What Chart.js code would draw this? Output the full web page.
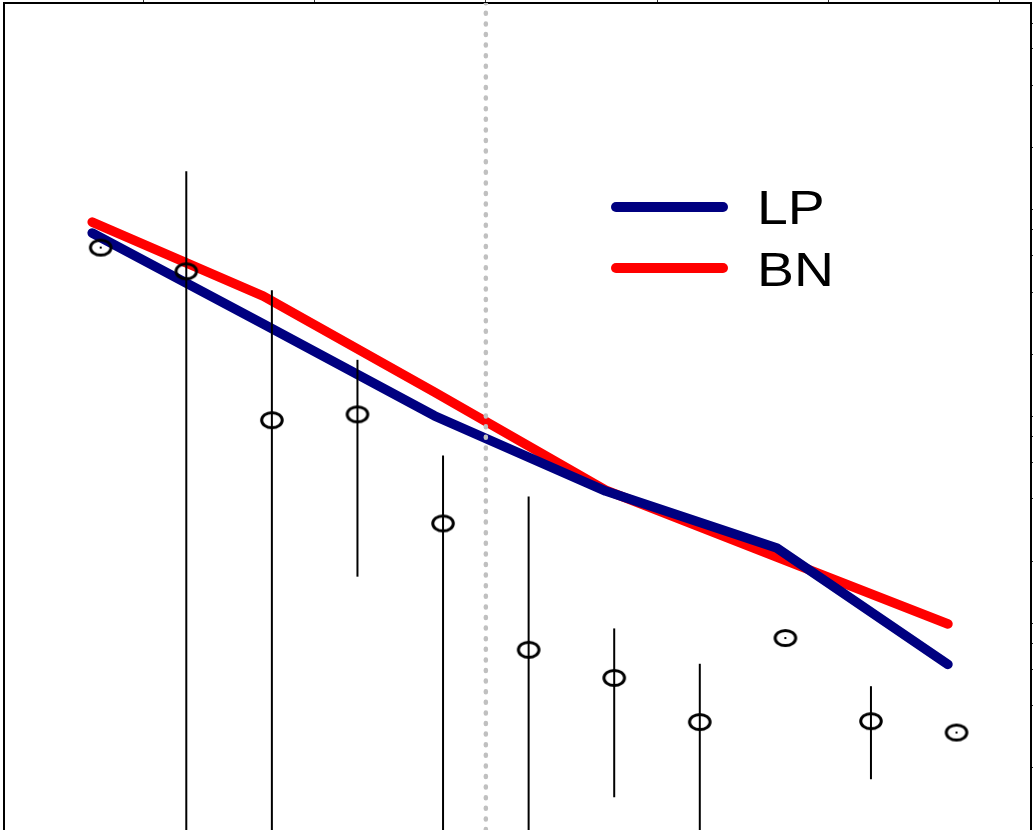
<!DOCTYPE html>
<html>
<head>
<meta charset="utf-8">
<script src="https://cdn.jsdelivr.net/npm/chart.js@4.4.1/dist/chart.umd.min.js"></script>
<style>
  html, body { margin: 0; padding: 0; background: #fff; overflow: hidden; }
  #wrap { position: relative; width: 1033px; height: 830px; }
  #c { display: block; }
  .key { position: absolute; left: 611px; width: 117px; height: 10px; border-radius: 5px; }
  .lbl { position: absolute; left: 757px; font-family: "Liberation Sans", Arial, sans-serif;
         font-size: 49px; line-height: 49px; color: #000; white-space: nowrap;
         transform: scaleX(1.13); transform-origin: 0 50%; }
</style>
</head>
<body>
<div id="wrap">
  <canvas id="c" width="1033" height="830"></canvas>
</div>
<script>
// Observed values per half-bin, with symmetric uncertainties (0 = no bar)
const binCentres  = [-0.25, 0.25, 0.75, 1.25, 1.75, 2.25, 2.75, 3.25, 3.75, 4.25, 4.75];
const observed    = [8.2, 6.3, 1.20, 1.28, 0.38, 0.093, 0.068, 0.0416, 0.106, 0.042, 0.037];
const observedErr = [0, 12.9, 3.9, 1.07, 0.43, 0.42, 0.05, 0.038, 0, 0.02, 0];

// Model curves
const modelX  = [-0.3, 0.7, 1.7, 2.7, 3.7, 4.7];
const modelLP = [9.65, 3.50, 1.26, 0.545, 0.289, 0.079];
const modelBN = [10.9, 4.78, 1.64, 0.551, 0.261, 0.124];

const seriesNames  = ['LP', 'BN'];
const seriesColors = ['#000080', '#ff0000'];

// Boundary marker and axis ranges / tick positions
const boundaryX = 2;
const xRange = [-0.815, 5.185];
const yRange = [0.0125, 125];
const topTicks = [0, 1, 2, 3, 4, 5];
const rightTicks = [0.025, 0.05, 0.075, 0.1, 0.125, 0.25, 0.5, 0.75, 1, 1.25, 2.5, 5, 7.5,
                    10, 12.5, 25, 50, 75, 100];

// open elliptical marker
function ringMarker() {
  const cv = document.createElement('canvas');
  cv.width = 28; cv.height = 22;
  const g = cv.getContext('2d');
  g.strokeStyle = '#000';
  g.lineWidth = 3;
  g.beginPath();
  g.ellipse(14, 11, 10.3, 7.6, 0, 0, Math.PI * 2);
  g.stroke();
  return cv;
}

const xy = (xs, ys) => xs.map((x, i) => ({ x, y: ys[i] }));

const errorBars = {
  id: 'errorBars',
  afterDatasetsDraw(chart) {
    const { ctx, chartArea, scales: { x, y } } = chart;
    ctx.save();
    ctx.beginPath();
    ctx.rect(chartArea.left, chartArea.top, chartArea.right - chartArea.left, chartArea.bottom - chartArea.top);
    ctx.clip();
    ctx.strokeStyle = '#000';
    ctx.fillStyle = '#000';
    ctx.lineWidth = 2;
    binCentres.forEach((bx, i) => {
      const px = x.getPixelForValue(bx);
      const v = observed[i], e = observedErr[i];
      if (e === 0) {
        const py = y.getPixelForValue(v);
        ctx.fillRect(px - 1, py - 1, 2, 2);
        return;
      }
      const hi = v + e, lo = v - e;
      const top = Math.max(chartArea.top, y.getPixelForValue(hi));
      const bot = lo > 0 ? Math.min(chartArea.bottom, y.getPixelForValue(lo)) : chartArea.bottom;
      ctx.beginPath();
      ctx.moveTo(px, top);
      ctx.lineTo(px, bot);
      ctx.stroke();
    });
    ctx.restore();
  }
};

const lineStyle = (color, order) => ({
  borderColor: color, backgroundColor: color, borderWidth: 9.5,
  borderCapStyle: 'round', borderJoinStyle: 'round',
  pointRadius: 0, tension: 0, fill: false, order
});

new Chart(document.getElementById('c'), {
  type: 'line',
  data: {
    datasets: [
      { label: 'obs', data: xy(binCentres, observed), showLine: false,
        pointStyle: ringMarker(), pointRadius: 10, order: 0 },
      { label: 'boundary', data: [{ x: boundaryX, y: yRange[0] }, { x: boundaryX, y: yRange[1] }],
        borderColor: '#c0c0c0', borderWidth: 4.5, borderDash: [1, 9.6], borderCapStyle: 'round',
        pointRadius: 0, order: 1 },
      Object.assign({ label: seriesNames[0], data: xy(modelX, modelLP) }, lineStyle(seriesColors[0], 2)),
      Object.assign({ label: seriesNames[1], data: xy(modelX, modelBN) }, lineStyle(seriesColors[1], 3))
    ]
  },
  options: {
    responsive: false,
    animation: false,
    events: [],
    layout: { autoPadding: false, padding: { left: 4, top: 0, right: 0, bottom: 0 } },
    plugins: { legend: { display: false }, tooltip: { enabled: false } },
    scales: {
      x: { type: 'linear', min: xRange[0], max: xRange[1], display: false },
      xTop: {
        type: 'linear', position: 'top', min: xRange[0], max: xRange[1],
        afterBuildTicks: s => { s.ticks = topTicks.map(v => ({ value: v })); },
        ticks: { display: false },
        grid: { drawOnChartArea: false, drawTicks: true, tickLength: 3, color: '#333', lineWidth: 1 },
        border: { display: true, color: '#000', width: 2 }
      },
      y: {
        type: 'logarithmic', position: 'left', min: yRange[0], max: yRange[1],
        ticks: { display: false },
        grid: { drawOnChartArea: false, drawTicks: false, tickLength: 0 },
        border: { display: true, color: '#000', width: 2 }
      },
      yRight: {
        type: 'logarithmic', position: 'right', min: yRange[0], max: yRange[1],
        afterBuildTicks: s => { s.ticks = rightTicks.map(v => ({ value: v })); },
        ticks: { display: false },
        grid: { drawOnChartArea: false, drawTicks: true, tickLength: 2, color: '#333', lineWidth: 1 },
        border: { display: true, color: '#000', width: 2 }
      }
    }
  },
  plugins: [errorBars]
});

// legend inside the plot
const wrap = document.getElementById('wrap');
seriesNames.forEach((name, i) => {
  const k = document.createElement('div');
  k.className = 'key';
  k.style.top = (202 + i * 61) + 'px';
  k.style.background = seriesColors[i];
  wrap.appendChild(k);
  const t = document.createElement('div');
  t.className = 'lbl';
  t.style.top = (183 + i * 62) + 'px';
  t.textContent = name;
  wrap.appendChild(t);
});
</script>
</body>
</html>
